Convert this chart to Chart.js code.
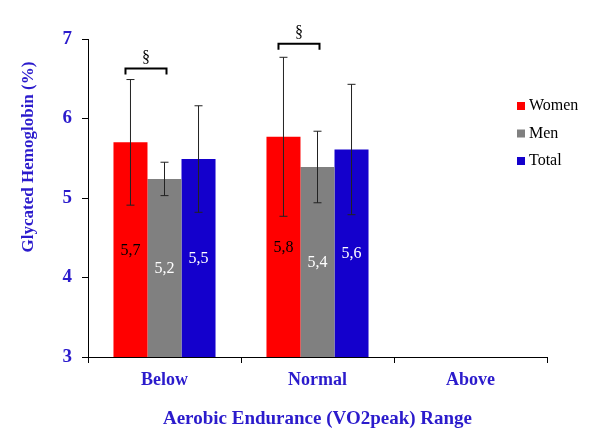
<!DOCTYPE html>
<html>
<head>
<meta charset="utf-8">
<script src="https://cdn.jsdelivr.net/npm/chart.js@4"></script>
<style>
html, body { margin: 0; padding: 0; background: #fff; }
</style>
</head>
<body>
<canvas id="myChart" width="600" height="445"></canvas>
<script>
// data
const categories = ['Below', 'Normal', 'Above'];
const seriesNames = ['Women', 'Men', 'Total'];
const women = [5.70, 5.77, null];
const men = [5.24, 5.39, null];
const total = [5.49, 5.61, null];
const womenSd = [0.79, 1.00, null];
const menSd = [0.21, 0.45, null];
const totalSd = [0.67, 0.82, null];
// significance brackets (Women vs Men)
const bracketCats = [0, 1];
const bracketLevels = [6.63, 6.94];
const bracketMark = '§';
const yTitle = 'Glycated Hemoglobin (%)';

const serif = "'Liberation Serif', 'Times New Roman', serif";
const axisBlue = '#2b1bcc';
const barColors = ['#ff0000', '#808080', '#1400cc'];
const labelColors = ['#000000', '#ffffff', '#ffffff'];
const sdList = [womenSd, menSd, totalSd];

const extras = {
    id: 'extras',
    afterDatasetsDraw(chart) {
        const ctx = chart.ctx;
        const y = chart.scales.y;
        const area = chart.chartArea;
        ctx.save();
        // error bars and value labels
        chart.data.datasets.forEach((ds, i) => {
            const meta = chart.getDatasetMeta(i);
            meta.data.forEach((el, j) => {
                const v = ds.data[j];
                if (v == null) return;
                const sd = sdList[i][j];
                const top = y.getPixelForValue(v + sd);
                const bot = y.getPixelForValue(v - sd);
                ctx.strokeStyle = '#222';
                ctx.lineWidth = 1;
                ctx.beginPath();
                ctx.moveTo(el.x, top); ctx.lineTo(el.x, bot);
                ctx.moveTo(el.x - 4, top); ctx.lineTo(el.x + 4, top);
                ctx.moveTo(el.x - 4, bot); ctx.lineTo(el.x + 4, bot);
                ctx.stroke();

                ctx.fillStyle = labelColors[i];
                ctx.font = '16px ' + serif;
                ctx.textAlign = 'center';
                ctx.textBaseline = 'middle';
                ctx.fillText(v.toFixed(1).replace('.', ','), el.x, (el.y + area.bottom) / 2 + 1);
            });
        });
        // brackets
        const m0 = chart.getDatasetMeta(0);
        const m1 = chart.getDatasetMeta(1);
        bracketCats.forEach((c, k) => {
            const x1 = m0.data[c].x - 5;
            const x2 = m1.data[c].x + 2;
            const by = y.getPixelForValue(bracketLevels[k]);
            ctx.strokeStyle = '#000';
            ctx.lineWidth = 2;
            ctx.beginPath();
            ctx.moveTo(x1, by + 6); ctx.lineTo(x1, by); ctx.lineTo(x2, by); ctx.lineTo(x2, by + 6);
            ctx.stroke();
            ctx.fillStyle = '#000';
            ctx.font = '16px ' + serif;
            ctx.textAlign = 'center';
            ctx.textBaseline = 'middle';
            ctx.fillText(bracketMark, (x1 + x2) / 2, by - 11);
        });
        // legend
        const lx = 517;
        let ly = 106;
        chart.data.datasets.forEach((ds) => {
            ctx.fillStyle = ds.backgroundColor;
            ctx.fillRect(lx, ly - 4, 8, 8);
            ctx.fillStyle = '#000';
            ctx.font = '16px ' + serif;
            ctx.textAlign = 'left';
            ctx.textBaseline = 'middle';
            ctx.fillText(ds.label, lx + 12, ly);
            ly += 27.5;
        });
        // y axis title (sits above the axis centre in the original)
        ctx.translate(29, 157);
        ctx.rotate(-Math.PI / 2);
        ctx.fillStyle = axisBlue;
        ctx.font = 'bold 17px ' + serif;
        ctx.textAlign = 'center';
        ctx.textBaseline = 'middle';
        ctx.fillText(yTitle, 0, 0);
        ctx.restore();
    }
};

const data = {
    labels: categories,
    datasets: [women, men, total].map((vals, i) => ({
        label: seriesNames[i],
        data: vals,
        backgroundColor: barColors[i],
        borderWidth: 0,
        categoryPercentage: 0.667,
        barPercentage: 1.0,
    }))
};

const config = {
    type: 'bar',
    data: data,
    options: {
        responsive: false,
        animation: false,
        layout: { padding: { top: 39, right: 53, left: 0, bottom: 0 } },
        plugins: {
            legend: { display: false },
            tooltip: { enabled: false }
        },
        scales: {
            x: {
                grid: { drawOnChartArea: false, drawTicks: true, tickLength: 6, color: '#000', offset: true },
                border: { color: '#000', width: 1 },
                ticks: { color: axisBlue, padding: 7, font: { family: serif, size: 18, weight: 'bold' } },
                title: {
                    display: true,
                    text: 'Aerobic Endurance (VO2peak) Range',
                    color: axisBlue,
                    font: { family: serif, size: 19, weight: 'bold' },
                    padding: { top: 4, bottom: 15 }
                },
                afterFit: (s) => { s.height = 88; }
            },
            y: {
                min: 3,
                max: 7,
                grid: { drawOnChartArea: false, drawTicks: true, tickLength: 6, color: '#000' },
                border: { color: '#000', width: 1 },
                ticks: { stepSize: 1, color: axisBlue, padding: 10, font: { family: serif, size: 19, weight: 'bold' } },
                afterFit: (s) => { s.width = 88; }
            }
        }
    },
    plugins: [extras]
};

new Chart(document.getElementById('myChart'), config);
</script>
</body>
</html>
